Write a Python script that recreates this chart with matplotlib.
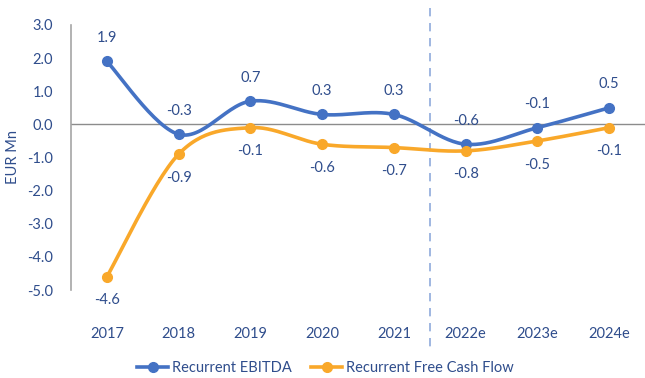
import numpy as np
import matplotlib
matplotlib.use("Agg")
import matplotlib.pyplot as plt
from matplotlib.lines import Line2D

years = ["2017", "2018", "2019", "2020", "2021", "2022e", "2023e", "2024e"]
ebitda = [1.9, -0.3, 0.7, 0.3, 0.3, -0.6, -0.1, 0.5]
fcf = [-4.6, -0.9, -0.1, -0.6, -0.7, -0.8, -0.5, -0.1]
yticks = [3.0, 2.0, 1.0, 0.0, -1.0, -2.0, -3.0, -4.0, -5.0]

BLUE = "#4472C4"
ORANGE = "#F9A82A"
TEXT = "#2F4D8C"
GREY = "#A6A6A6"

plt.rcParams["font.family"] = ["Lato", "DejaVu Sans"]


def smooth(xs, ys, n=30):
    """Catmull-Rom style cubic Bezier smoothing through every point."""
    xs = np.asarray(xs, float)
    ys = np.asarray(ys, float)
    px = np.concatenate([[xs[0]], xs, [xs[-1]]])
    py = np.concatenate([[ys[0]], ys, [ys[-1]]])
    out_x, out_y = [], []
    t = np.linspace(0, 1, n)
    for i in range(1, len(px) - 2):
        p0 = np.array([px[i], py[i]])
        p3 = np.array([px[i + 1], py[i + 1]])
        c1 = p0 + (np.array([px[i + 1], py[i + 1]]) - np.array([px[i - 1], py[i - 1]])) / 6
        c2 = p3 - (np.array([px[i + 2], py[i + 2]]) - np.array([px[i], py[i]])) / 6
        b = ((1 - t) ** 3)[:, None] * p0 + (3 * (1 - t) ** 2 * t)[:, None] * c1 \
            + (3 * (1 - t) * t ** 2)[:, None] * c2 + (t ** 3)[:, None] * p3
        out_x.extend(b[:, 0])
        out_y.extend(b[:, 1])
    return np.array(out_x), np.array(out_y)


fig = plt.figure(figsize=(6.45, 3.78), dpi=100)
ax = fig.add_axes([71 / 645, 1 - 290 / 378, 1 - 71 / 645, 265 / 378])

x = np.arange(len(years))

for vals, col in [(ebitda, BLUE), (fcf, ORANGE)]:
    sx, sy = smooth(x, vals)
    ax.plot(sx, sy, color=col, lw=2.6, solid_capstyle="round", zorder=3)
    ax.plot(x, vals, "o", color=col, ms=7, zorder=4)

# value labels: EBITDA above, free cash flow below
for xi, v in zip(x, ebitda):
    ax.annotate(f"{v:.1f}", (xi, v), xytext=(0, 17), textcoords="offset points",
                ha="center", va="center", color=TEXT, fontsize=10.5)
for xi, v in zip(x, fcf):
    ax.annotate(f"{v:.1f}", (xi, v), xytext=(0, -17), textcoords="offset points",
                ha="center", va="center", color=TEXT, fontsize=10.5)

ax.set_xlim(-0.5, len(years) - 0.5)
ax.set_ylim(-5, 3)
ax.set_yticks(yticks)
ax.set_yticklabels([f"{t:.1f}" for t in yticks])
ax.set_xticks(x)
ax.set_xticklabels(years)
ax.tick_params(axis="y", length=0, pad=13, labelcolor=TEXT, labelsize=10.5)
ax.tick_params(axis="x", length=0, pad=27, labelcolor=TEXT, labelsize=10.5)

for s in ["top", "right", "bottom"]:
    ax.spines[s].set_visible(False)
ax.spines["left"].set_color(GREY)
ax.spines["left"].set_linewidth(1.2)
ax.axhline(0, color="#8C8C8C", lw=1.0, zorder=2)

# forecast divider between actuals and estimates
ax.plot([4.5, 4.5], [3.5, -6.8], ls=(0, (5, 4)), color="#8FAADC", lw=1.2,
        clip_on=False, zorder=1)

ax.set_ylabel("EUR Mn", color=TEXT, fontsize=10.5, labelpad=5)

handles = [
    Line2D([], [], color=BLUE, lw=2.6, marker="o", ms=7),
    Line2D([], [], color=ORANGE, lw=2.6, marker="o", ms=7),
]
fig.legend(handles, ["Recurrent EBITDA", "Recurrent Free Cash Flow"],
           loc="lower center", bbox_to_anchor=(0.505, -0.028), ncol=2,
           frameon=False, fontsize=10.5, labelcolor=TEXT, handlelength=2.1,
           columnspacing=1.3, handletextpad=0.3)

fig.savefig("out.png", dpi=100)
